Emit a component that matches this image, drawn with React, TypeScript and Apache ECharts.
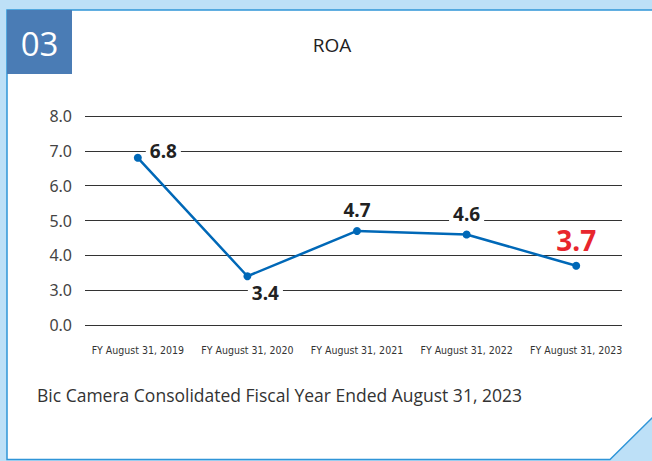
import React, { useEffect, useRef } from "react";
import * as echarts from "echarts";

const categories = [
  "FY August 31, 2019",
  "FY August 31, 2020",
  "FY August 31, 2021",
  "FY August 31, 2022",
  "FY August 31, 2023",
];
const roaValues = [6.8, 3.4, 4.7, 4.6, 3.7];
// Broken axis: the lowest tick (value 2 on the scale) is labelled 0.0
const yMin = 2;
const yMax = 8;
const yInterval = 1;
const brokenBaseLabel = "0.0";

const title = "ROA";
const badge = "03";
const footnote = "Bic Camera Consolidated Fiscal Year Ended August 31, 2023";

export default function App() {
  const ref = useRef<HTMLDivElement>(null);

  useEffect(() => {
    document.body.style.margin = "0";
    if (!ref.current) return;
    const chart = echarts.init(ref.current, null, { renderer: "svg" });

    const labelStyles: any[] = [
      { position: "right", distance: 4, offset: [0, -7] },
      { position: "bottom", distance: 3, offset: [18, 0] },
      { position: "top", distance: 7 },
      { position: "top", distance: 7 },
      { position: "top", distance: 8, color: "#e8262d", fontSize: 28, fontWeight: "bold", backgroundColor: "transparent" },
    ];

    const data = roaValues.map((v, i) => ({
      value: v,
      label: {
        show: true,
        formatter: v.toFixed(1),
        color: "#222",
        fontSize: 19,
        fontWeight: "bold",
        fontFamily: "Noto Sans",
        backgroundColor: "#fff",
        padding: [0, 4],
        ...labelStyles[i],
      },
    }));

    const font = "Noto Sans";

    chart.setOption({
      animation: false,
      backgroundColor: "#bde0f7",
      graphic: [
        {
          type: "polygon",
          shape: {
            points: [
              [7, 10],
              [653, 10],
              [653, 417],
              [610, 459.5],
              [7, 459.5],
            ],
          },
          style: { fill: "#fff", stroke: "#2f95d8", lineWidth: 1.5 },
          z: -10,
        },
        {
          type: "rect",
          shape: { x: 7, y: 10, width: 65, height: 64 },
          style: { fill: "#4a7cb5" },
          z: -5,
        },
        {
          type: "text",
          x: 39.5,
          y: 43,
          style: {
            text: badge,
            fill: "#fff",
            fontSize: 33,
            fontFamily: "Open Sans",
            align: "center",
            verticalAlign: "middle",
          },
        },
        {
          type: "text",
          x: 332,
          y: 45,
          style: {
            text: title,
            fill: "#222",
            fontSize: 19,
            fontFamily: "Open Sans",
            align: "center",
            verticalAlign: "middle",
          },
        },
        {
          type: "text",
          x: 37,
          y: 395,
          style: {
            text: footnote,
            fill: "#333",
            fontSize: 17.5,
            fontFamily: "Open Sans",
            align: "left",
            verticalAlign: "middle",
          },
        },
      ],
      grid: [
        { left: 85, right: 30, top: 116, bottom: 136 },
        { left: 83, right: 21, top: 116, bottom: 136 },
      ],
      xAxis: [
        { type: "value", gridIndex: 0, show: false, min: 0, max: 1 },
        {
          type: "category",
          gridIndex: 1,
          data: categories,
          boundaryGap: true,
          axisLine: { show: false },
          axisTick: { show: false },
          axisLabel: {
            color: "#333",
            fontSize: 10.5,
            fontFamily: "DejaVu Sans Condensed",
            margin: 19,
            interval: 0,
          },
        },
      ],
      yAxis: [
        {
          type: "value",
          gridIndex: 0,
          min: yMin,
          max: yMax,
          interval: yInterval,
          axisLine: { show: false },
          axisTick: { show: false },
          splitLine: { lineStyle: { color: "#333", width: 1 } },
          axisLabel: {
            color: "#444",
            fontSize: 16,
            fontFamily: font,
            margin: 13,
            formatter: (v: number) => (v === yMin ? brokenBaseLabel : v.toFixed(1)),
          },
        },
        {
          type: "value",
          gridIndex: 1,
          min: yMin,
          max: yMax,
          interval: yInterval,
          show: false,
        },
      ],
      series: [
        {
          type: "line",
          xAxisIndex: 1,
          yAxisIndex: 1,
          data,
          symbol: "circle",
          symbolSize: 8,
          lineStyle: { color: "#0068b7", width: 2.5 },
          itemStyle: { color: "#0068b7" },
          z: 5,
        },
      ],
    });

    return () => chart.dispose();
  }, []);

  return <div ref={ref} style={{ width: 652, height: 461 }} />;
}
